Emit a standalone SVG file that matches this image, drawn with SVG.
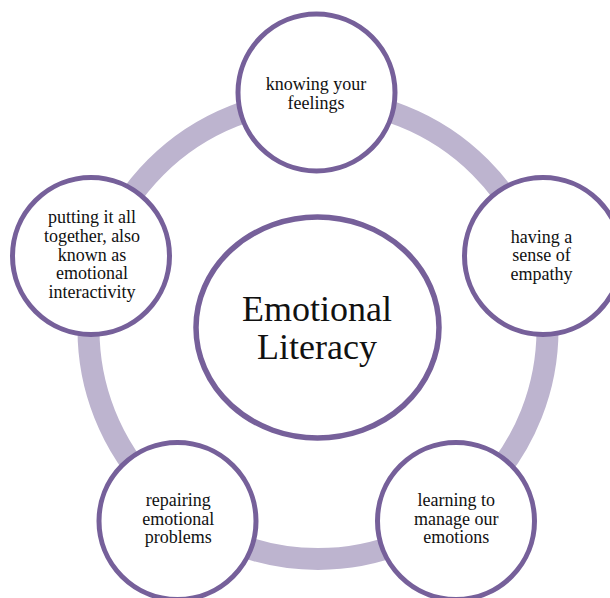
<svg xmlns="http://www.w3.org/2000/svg" width="610" height="598" viewBox="0 0 610 598">
  <style>
    .ring { fill: none; stroke: #bdb4cf; stroke-width: 22; }
    .node { fill: #ffffff; stroke: #76609a; stroke-width: 5; }
    .hub { fill: #ffffff; stroke: #76609a; stroke-width: 5.5; }
    .lbl { font-family: "Liberation Serif", "Times New Roman", serif; font-size: 18px; fill: #111111; text-anchor: middle; }
    .hub-lbl { font-family: "Liberation Serif", "Times New Roman", serif; font-size: 36px; fill: #111111; text-anchor: middle; }
  </style>

  <rect width="610" height="598" fill="#ffffff"/>

  <!-- cycle ring linking the five outer steps -->
  <g id="connectors">
    <circle class="ring" cx="318" cy="329.5" r="229.5"/>
  </g>

  <g id="hub">
    <ellipse class="hub" cx="317.5" cy="327.5" rx="121.5" ry="110.5"/>
    <text class="hub-lbl" x="317" y="321">Emotional</text>
    <text class="hub-lbl" x="317" y="358.5">Literacy</text>
  </g>

  <g id="node-feelings">
    <circle class="node" cx="316.5" cy="92.5" r="78.5"/>
    <text class="lbl" x="316" y="89.5">knowing your</text>
    <text class="lbl" x="316" y="108.5">feelings</text>
  </g>

  <g id="node-empathy">
    <circle class="node" cx="543" cy="256" r="78.5"/>
    <text class="lbl" x="541.5" y="242.5">having a</text>
    <text class="lbl" x="541.5" y="261">sense of</text>
    <text class="lbl" x="541.5" y="279.5">empathy</text>
  </g>

  <g id="node-manage">
    <circle class="node" cx="456" cy="521" r="78.5"/>
    <text class="lbl" x="456.3" y="506">learning to</text>
    <text class="lbl" x="456.3" y="524.5">manage our</text>
    <text class="lbl" x="456.3" y="543">emotions</text>
  </g>

  <g id="node-repair">
    <circle class="node" cx="177.5" cy="521" r="78.5"/>
    <text class="lbl" x="178.3" y="506">repairing</text>
    <text class="lbl" x="178.3" y="524.5">emotional</text>
    <text class="lbl" x="178.3" y="543">problems</text>
  </g>

  <g id="node-together">
    <circle class="node" cx="91" cy="256" r="78.5"/>
    <text class="lbl" x="92" y="223">putting it all</text>
    <text class="lbl" x="92" y="241.75">together, also</text>
    <text class="lbl" x="92" y="260.5">known as</text>
    <text class="lbl" x="92" y="279.25">emotional</text>
    <text class="lbl" x="92" y="298">interactivity</text>
  </g>
</svg>
